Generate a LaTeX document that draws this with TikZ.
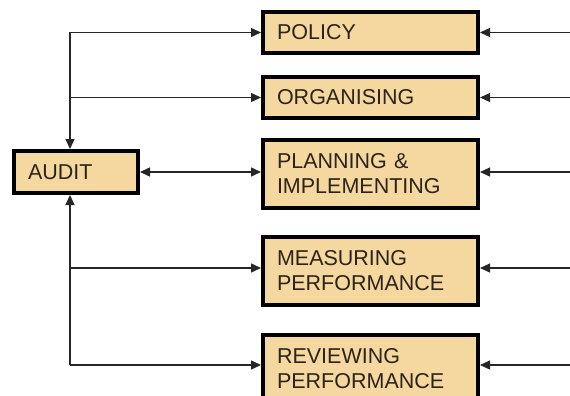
\documentclass[tikz,border=0pt]{standalone}
\usepackage{fontspec}
\setmainfont{Liberation Sans}
\usepackage{xcolor}
\usepackage{tikz}
\usetikzlibrary{positioning,arrows.meta}

\definecolor{boxfill}{RGB}{245,216,160}
\definecolor{boxtext}{RGB}{45,35,25}

\tikzset{
  stagebox/.style={draw=black, line width=4pt, fill=boxfill, text=boxtext,
    minimum width=215pt, minimum height=41pt, text width=187pt, align=left,
    inner xsep=14pt, inner ysep=0pt,
    font=\fontsize{21.5}{25}\selectfont},
  flow/.style={draw=black!85, line width=1.3pt, -{Triangle[length=10pt,width=9pt]}},
  twoway/.style={draw=black!85, line width=1.3pt, {Triangle[length=10pt,width=9pt]}-{Triangle[length=10pt,width=9pt]}}
}

\begin{document}
\begin{tikzpicture}[x=1pt,y=-1pt]
\useasboundingbox (0,0) rectangle (570,396);
\clip (0,0) rectangle (570,396);

% boxes
\node[stagebox] (policy) at (370.5,32.5) {POLICY};
\node[stagebox] (organising) at (370.5,97.5) {ORGANISING};
\node[stagebox, minimum height=68pt] (planning) at (370.5,174) {PLANNING \&\\IMPLEMENTING};
\node[stagebox, minimum height=68pt] (measuring) at (370.5,271) {MEASURING\\PERFORMANCE};
\node[stagebox, minimum height=68pt] (reviewing) at (370.5,369) {REVIEWING\\PERFORMANCE};
\node[stagebox, minimum width=124pt, minimum height=42pt, text width=96pt] (audit) at (76,172) {AUDIT};

% left hand bus
\coordinate (top) at (70,32.5);
\coordinate (bottom) at (70,365);
\draw[flow] (top) -- (policy.west);
\draw[flow] (70,97.5) -- (organising.west);
\draw[flow] (top) -- (audit.north -| top);
\draw[twoway] (audit.east) -- (audit.east -| planning.west);
\draw[flow] (bottom) -- (audit.south -| bottom);
\draw[flow] (70,268) -- (measuring.west |- 0,268);
\draw[flow] (bottom) -- (reviewing.west |- bottom);

% feeds from the right
\draw[flow] (570,32.5) -- (policy.east);
\draw[flow] (570,97.5) -- (organising.east);
\draw[flow] (570,172) -- (planning.east |- 0,172);
\draw[flow] (570,268) -- (measuring.east |- 0,268);
\draw[flow] (570,365) -- (reviewing.east |- 0,365);
\end{tikzpicture}
\end{document}
